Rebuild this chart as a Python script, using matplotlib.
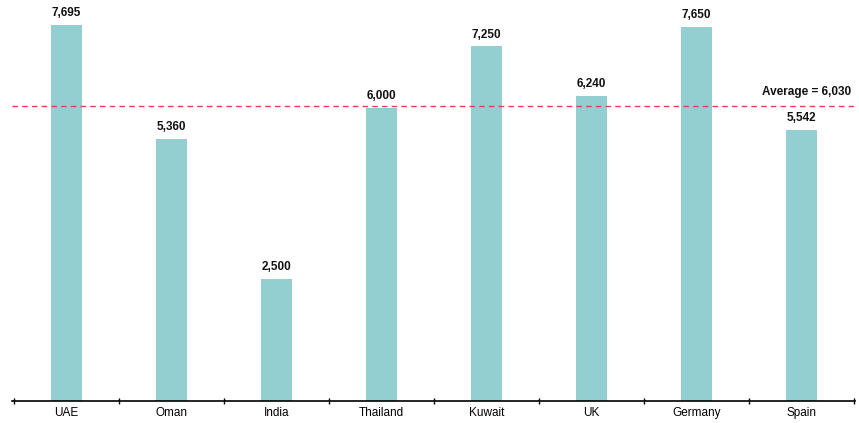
import matplotlib
matplotlib.use("Agg")
import matplotlib.pyplot as plt
import numpy as np

countries = ["UAE", "Oman", "India", "Thailand", "Kuwait", "UK", "Germany", "Spain"]
values = [7695, 5360, 2500, 6000, 7250, 6240, 7650, 5542]
average = 6030

plt.rcParams["font.family"] = ["Liberation Sans", "DejaVu Sans"]

fig = plt.figure(figsize=(8.59, 4.23), dpi=100)
ax = fig.add_axes([12 / 859, 22 / 423, 843 / 859, 401 / 423])

x = np.arange(len(countries))
ax.bar(x, values, width=0.3, color="#93cfd1", zorder=2)
for xi, v in zip(x, values):
    ax.text(xi, v + 120, f"{v:,}", ha="center", va="bottom", fontsize=8.5,
            fontweight="bold", color="#111111")

ax.axhline(average, color="#e0405a", ls=(0, (4, 3)), lw=1, zorder=3)
ax.text(7.47, average + 170, f"Average = {average:,}", ha="right", va="bottom",
        fontsize=8.5, fontweight="bold", color="#111111")

ax.set_xlim(-0.52, 7.51)
ax.set_ylim(0, 8200)
for s in ["top", "right", "left"]:
    ax.spines[s].set_visible(False)
ax.spines["bottom"].set_linewidth(1.2)
ax.set_yticks([])
ax.set_xticks(x)
ax.set_xticklabels(countries, fontsize=8.5)
ax.tick_params(axis="x", which="major", length=0, pad=4)
ax.set_xticks(np.arange(-0.5, 8.0, 1), minor=True)
ax.tick_params(axis="x", which="minor", length=5, direction="inout", width=1)

fig.savefig("out.png", dpi=100)
